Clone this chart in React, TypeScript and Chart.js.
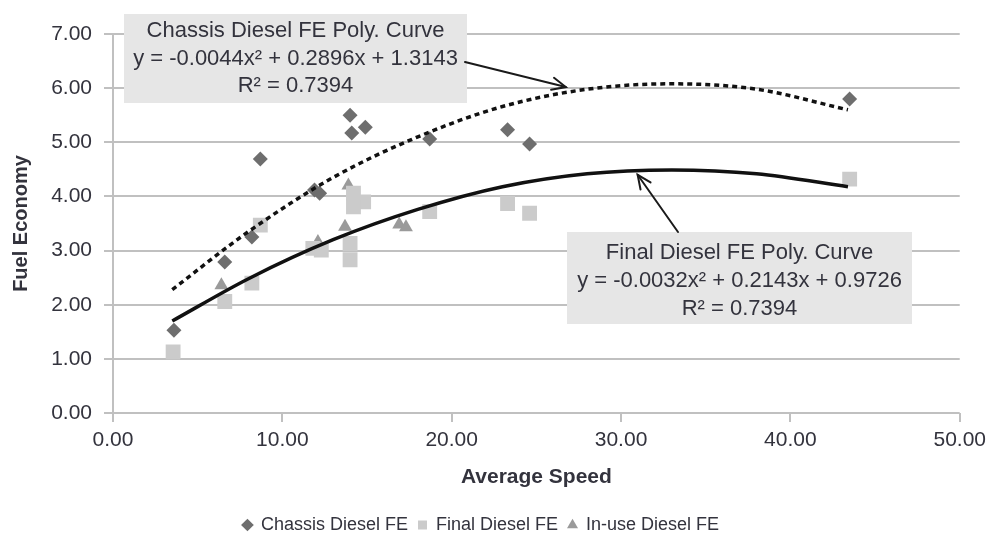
import React, { useEffect, useRef } from "react";
import { Chart, registerables } from "chart.js";

Chart.register(...registerables);

// ---- data ----
const chassisSpeed = [3.6, 6.6, 8.2, 8.7, 11.9, 12.2, 14.0, 14.1, 14.9, 18.7, 23.3, 24.6, 43.5];
const chassisFE = [1.53, 2.79, 3.25, 4.69, 4.12, 4.06, 5.5, 5.17, 5.28, 5.06, 5.23, 4.97, 5.8];

const finalSpeed = [3.55, 6.6, 8.2, 8.7, 11.8, 12.3, 14.0, 14.0, 14.2, 14.8, 14.2, 18.7, 23.3, 24.6, 43.5];
const finalFE = [1.13, 2.06, 2.4, 3.47, 3.04, 3.01, 3.13, 2.83, 4.06, 3.9, 3.81, 3.72, 3.87, 3.69, 4.32];

const inuseSpeed = [6.4, 12.1, 13.7, 13.9, 16.9, 17.3];
const inuseFE = [2.36, 3.16, 3.44, 4.2, 3.48, 3.43];

// trend curves
const curveSpeed = [3.5, 8, 13, 18, 23, 28, 33, 38, 43.4];
const chassisCurveFE = [2.28, 3.35, 4.35, 5.1, 5.66, 5.98, 6.08, 5.98, 5.6];
const finalCurveFE = [1.7, 2.48, 3.2, 3.76, 4.18, 4.42, 4.49, 4.42, 4.18];

const yTicks = [0, 1, 2, 3, 4, 5, 6, 7];
const xTicks = [0, 10, 20, 30, 40, 50];

const seriesNames = ["Chassis Diesel FE", "Final Diesel FE", "In-use Diesel FE"];
const chassisNote = ["Chassis Diesel FE Poly. Curve", "y = -0.0044x\u00B2 + 0.2896x + 1.3143", "R\u00B2 = 0.7394"];
const finalNote = ["Final Diesel FE Poly. Curve", "y = -0.0032x\u00B2 + 0.2143x + 0.9726", "R\u00B2 = 0.7394"];
const xTitle = "Average Speed";
const yTitle = "Fuel Economy";

const FONT = "'Liberation Sans', Arial, Helvetica, sans-serif";
const TEXT = "#33333d";
const GRID = "#c0c0c0";

const pts = (xs: number[], ys: number[]) => xs.map((x, i) => ({ x, y: ys[i] }));

function drawArrow(ctx: CanvasRenderingContext2D, x1: number, y1: number, x2: number, y2: number) {
  ctx.beginPath();
  ctx.moveTo(x1, y1);
  ctx.lineTo(x2, y2);
  ctx.stroke();
  const a = Math.atan2(y2 - y1, x2 - x1);
  const L = 15;
  const sp = 0.42;
  ctx.beginPath();
  ctx.moveTo(x2 - L * Math.cos(a - sp), y2 - L * Math.sin(a - sp));
  ctx.lineTo(x2, y2);
  ctx.lineTo(x2 - L * Math.cos(a + sp), y2 - L * Math.sin(a + sp));
  ctx.stroke();
}

function drawNote(ctx: CanvasRenderingContext2D, left: number, top: number, w: number, h: number, lines: string[], firstY: number, gap: number) {
  ctx.fillStyle = "#e6e6e6";
  ctx.fillRect(left, top, w, h);
  ctx.fillStyle = TEXT;
  ctx.font = `22px ${FONT}`;
  ctx.textAlign = "center";
  ctx.textBaseline = "middle";
  lines.forEach((t, i) => ctx.fillText(t, left + w / 2, firstY + i * gap));
}

const notesPlugin = {
  id: "notes",
  afterDatasetsDraw(chart: any) {
    const ctx: CanvasRenderingContext2D = chart.ctx;
    const xs = chart.scales.x;
    const ys = chart.scales.y;
    ctx.save();
    drawNote(ctx, 124, 14, 343, 89, chassisNote, 31, 27.5);
    drawNote(ctx, 567, 232, 345, 92, finalNote, 253, 28);
    ctx.strokeStyle = "#1a1a1a";
    ctx.lineWidth = 2;
    ctx.lineCap = "round";
    drawArrow(ctx, 465, 62, xs.getPixelForValue(26.74), ys.getPixelForValue(6.02));
    drawArrow(ctx, 678, 232, xs.getPixelForValue(30.98), ys.getPixelForValue(4.4));
    ctx.restore();
  },
};

export default function App() {
  const ref = useRef<HTMLCanvasElement | null>(null);

  useEffect(() => {
    document.body.style.margin = "0";
    const fmt = (v: any) => Number(v).toFixed(2);
    const chart = new Chart(ref.current as HTMLCanvasElement, {
      type: "scatter",
      data: {
        datasets: [
          {
            label: seriesNames[0],
            data: pts(chassisSpeed, chassisFE),
            pointStyle: "rectRot",
            pointRadius: 7.5,
            backgroundColor: "#6e6e6e",
            borderColor: "#6e6e6e",
            borderWidth: 0,
            order: 1,
          },
          {
            label: seriesNames[1],
            data: pts(finalSpeed, finalFE),
            pointStyle: "rect",
            pointRadius: 10.5,
            backgroundColor: "#cbcbcb",
            borderColor: "#cbcbcb",
            borderWidth: 0,
            order: 1,
          },
          {
            label: seriesNames[2],
            data: pts(inuseSpeed, inuseFE),
            pointStyle: "triangle",
            pointRadius: 8,
            backgroundColor: "#9a9a9a",
            borderColor: "#9a9a9a",
            borderWidth: 0,
            order: 1,
          },
          {
            label: "chassis curve",
            data: pts(curveSpeed, chassisCurveFE),
            showLine: true,
            pointRadius: 0,
            borderColor: "#111",
            borderWidth: 3.5,
            borderDash: [5, 4],
            cubicInterpolationMode: "monotone",
            order: 0,
          },
          {
            label: "final curve",
            data: pts(curveSpeed, finalCurveFE),
            showLine: true,
            pointRadius: 0,
            borderColor: "#111",
            borderWidth: 3.5,
            cubicInterpolationMode: "monotone",
            order: 0,
          },
        ],
      } as any,
      options: {
        responsive: false,
        animation: false,
        layout: { padding: { top: 34, right: 30, left: 0, bottom: 0 } },
        plugins: {
          tooltip: { enabled: false },
          legend: {
            position: "bottom",
            labels: {
              usePointStyle: true,
              boxWidth: 9,
              boxHeight: 9,
              padding: 10,
              color: TEXT,
              font: { family: FONT, size: 18 },
              filter: (item: any) => seriesNames.includes(item.text),
            },
          },
        },
        scales: {
          x: {
            type: "linear",
            min: 0,
            max: 50,
            afterBuildTicks: (s: any) => {
              s.ticks = xTicks.map((v) => ({ value: v }));
            },
            ticks: { callback: fmt, color: TEXT, font: { family: FONT, size: 21 }, padding: 6 },
            grid: { drawOnChartArea: false, drawTicks: true, tickLength: 9, color: GRID, lineWidth: 2 },
            border: { display: false },
            title: {
              display: true,
              text: xTitle,
              color: TEXT,
              font: { family: FONT, size: 21, weight: "bold" },
              padding: { top: 0, bottom: 16 },
            },
            afterFit: (s: any) => {
              s.height = 93;
            },
          },
          y: {
            type: "linear",
            min: 0,
            max: 7,
            afterBuildTicks: (s: any) => {
              s.ticks = yTicks.map((v) => ({ value: v }));
            },
            ticks: { callback: fmt, color: TEXT, font: { family: FONT, size: 21 }, padding: 12 },
            grid: { color: GRID, lineWidth: 2, tickLength: 9 },
            border: { display: true, color: GRID, width: 2 },
            title: {
              display: true,
              text: yTitle,
              color: TEXT,
              font: { family: FONT, size: 20, weight: "bold" },
              padding: { top: 9, bottom: 0 },
            },
            afterFit: (s: any) => {
              s.width = 113;
            },
          },
        },
      } as any,
      plugins: [notesPlugin],
    });
    return () => chart.destroy();
  }, []);

  return (
    <div style={{ position: "fixed", left: 0, top: 0, width: 992, height: 537, overflow: "hidden", background: "#fff" }}>
      <canvas ref={ref} width={992} height={544} style={{ display: "block", width: 992, height: 544 }} />
    </div>
  );
}
